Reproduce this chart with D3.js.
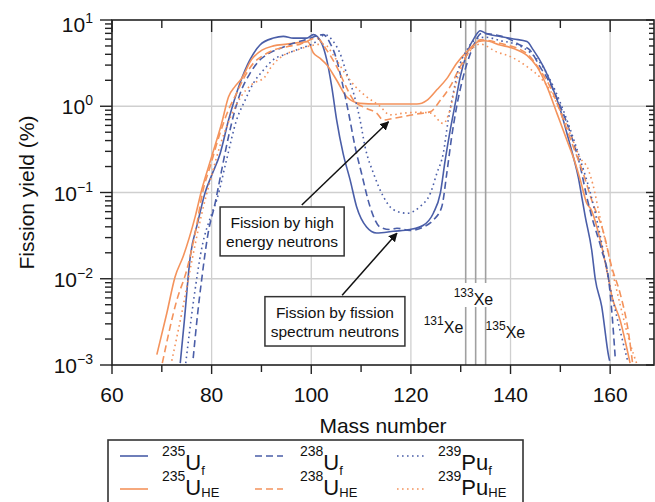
<!DOCTYPE html>
<html lang="en">
<head>
<meta charset="UTF-8">
<title>Fission yield vs mass number</title>
<script src="https://d3js.org/d3.v7.min.js"></script>
<style>
  body { margin: 0; background: #fff; }
  text { font-family: "Liberation Sans", Arial, sans-serif; fill: #111; }
  .grid { stroke: #cfcfcf; stroke-width: 1.3; }
  .xe { stroke: #a0a0a0; stroke-width: 1.6; }
  .frame { fill: none; stroke: #222; stroke-width: 1.6; }
  .tick { stroke: #222; stroke-width: 1.4; }
  .curve { fill: none; stroke-width: 1.6; }
  .note rect { fill: #fff; stroke: #333; stroke-width: 1.5; }
</style>
</head>
<body>
<svg width="655" height="502"></svg>
<script>
// ---- data (yield in %) ----
const u235fMass  = [73.7,74.5,75.7,77.2,78.7,80,81.7,83.4,85.7,87.7,89.7,92.4,94.4,96.4,99.1,100.4,102.1,103.1,104.1,105.1,106.4,107.8,109.1,111.1,113.1,116.5,119.8,122.5,124.5,125.9,126.9,127.9,128.9,129.9,131.2,132.9,133.9,135.2,137.9,140.6,143.3,144.6,146.6,148.6,150,151.3,152.6,153.6,154.3,155,156.3,157,158.3,159.7,159.9];
const u235fYield = [0.00105,0.00316,0.0178,0.0447,0.1,0.158,0.282,0.692,1.86,3.47,5.13,6.17,6.46,6.17,6.17,6.76,5.37,3.47,1.70,0.692,0.282,0.140,0.0684,0.0398,0.0339,0.0355,0.0372,0.0417,0.0575,0.0977,0.240,0.531,1.07,2.19,4.07,6.46,7.52,6.92,6.46,6.03,5.62,4.47,2.88,1.55,0.912,0.490,0.260,0.151,0.0891,0.0525,0.0214,0.01,0.00479,0.00126,0.00112];

const u235heMass  = [69,71,72.65,74.3,76.7,78,80,82,83.4,84.7,86,88,90.1,92.4,95.1,97.8,99.3,100.4,101.8,103.1,105.1,107.1,109.8,113.1,117.2,121.2,123.2,125.2,127.2,129.2,131.2,133.6,134.9,137.9,140.6,143.3,145.3,147.3,149.3,151.3,153,154,155.3,156.2,158,159.7,160.3,162,164];
const u235heYield = [0.00132,0.00398,0.0105,0.0182,0.0525,0.107,0.260,0.631,1.29,1.70,2.09,3.47,4.47,5.01,5.25,5.50,5.62,4.17,3.59,3.02,2.0,1.29,1.08,1.06,1.06,1.06,1.17,1.55,2.09,3.16,4.27,5.62,5.75,5.13,4.68,3.89,2.88,1.70,0.832,0.407,0.219,0.140,0.075,0.063,0.0282,0.00977,0.00646,0.00331,0.00105];

const u238fMass  = [76.3,77.2,78,79.3,80.7,81.3,83.4,84.7,86,87.7,89.4,91.4,93.7,96.4,99.1,102.4,103.8,105.1,106.1,107.5,108.8,110.1,111.8,113.8,115.8,117.2,119.8,122.5,124.5,126.2,127.2,128.2,129.2,130.5,132.2,134.2,136.6,139.3,141.9,143.9,145.9,147.9,150,152,154,155.3,156.3,158.3,159.7,160.3,161];
const u238fYield = [0.0012,0.00398,0.00977,0.0339,0.075,0.112,0.447,0.912,1.55,2.40,3.31,4.07,4.68,5.37,5.97,6.76,5.37,3.47,2.0,0.832,0.339,0.166,0.0684,0.0398,0.0372,0.0385,0.0363,0.0398,0.0479,0.0684,0.166,0.447,1.0,2.19,4.47,7.0,6.76,6.17,5.13,4.47,2.88,1.86,1.0,0.490,0.20,0.0891,0.0525,0.0214,0.00977,0.00437,0.00126];

const u238heMass  = [70.1,73,75,76.7,78.3,79.7,81.7,83.4,85,86.4,88.4,90.4,92.4,95.1,97.8,101.1,103.1,105.1,106.8,108.5,111.1,113.1,114.5,116.5,118.5,121.2,123.9,125.9,127.9,129.9,131.9,134,137.9,143.3,145.9,147.9,150.6,152.6,154.6,156.3,158.7,160.3,162,163.7,164.5];
const u238heYield = [0.00105,0.00562,0.0126,0.0339,0.107,0.20,0.49,0.912,1.41,2.09,3.16,3.89,4.47,4.90,5.25,6.17,4.47,2.88,1.78,1.17,0.944,0.832,0.692,0.724,0.759,0.813,0.865,1.17,1.70,2.88,4.47,5.89,5.37,4.07,2.63,1.70,0.692,0.339,0.166,0.0813,0.0339,0.0138,0.00676,0.00234,0.00105];

const pu239fMass  = [74.8,76.5,78,80,81,83,85,86.7,88.4,90.4,92.4,95.1,97.8,100.5,102.8,104.3,105.8,107.1,108.5,109.8,110.8,112.5,114.5,116.5,119.2,121.8,123.9,125.2,126.5,127.5,128.5,129.5,131.2,133.2,135,138,141,144,146,148,150,152,154,156,158,160,162,163.5];
const pu239fYield = [0.00105,0.0063,0.0224,0.0562,0.0813,0.24,0.692,1.17,1.86,2.63,3.47,4.07,4.68,5.37,6.76,5.75,4.07,2.40,1.41,0.692,0.339,0.166,0.0891,0.0631,0.0575,0.0684,0.0977,0.166,0.285,0.692,1.41,2.63,4.47,6.03,6.31,5.75,5.25,4.17,3.16,2.0,1.10,0.537,0.240,0.1,0.0316,0.00794,0.00251,0.00112];

const pu239heMass  = [72,74,76,78,80,82,84,86,88,90.7,92,94.4,97.1,99.1,102.5,104.8,106.8,108.8,111.1,113.8,115.8,118.5,121.5,124,126.5,127.8,129,130.5,132.5,134,137.2,140,143.3,146,148,150,152,154,155.5,156.5,158,160,162,164,165.3];
const pu239heYield = [0.00112,0.00398,0.0158,0.0562,0.158,0.398,0.794,1.32,1.78,2.19,2.88,3.89,4.47,4.90,5.25,3.63,2.40,1.70,1.29,1.0,0.794,0.832,0.851,0.832,0.631,0.891,1.78,3.16,4.79,5.25,4.27,3.76,2.88,2.14,1.51,0.891,0.479,0.251,0.191,0.126,0.0501,0.0158,0.00501,0.00178,0.00105];

const xTicks = [60, 80, 100, 120, 140, 160];
const yDecades = [1e-3, 1e-2, 1e-1, 1e0, 1e1];
const yExponents = ["\u22123", "\u22122", "\u22121", "0", "1"];
const xeMass = [131, 133, 135];
const xeLabels = ["131", "133", "135"];

const series = [
  {mass: u235fMass,  yield: u235fYield,  sup: "235", main: "U",  sub: "f",  color: "#4a5ea8", dash: null},
  {mass: u235heMass, yield: u235heYield, sup: "235", main: "U",  sub: "HE", color: "#f4935c", dash: null},
  {mass: u238fMass,  yield: u238fYield,  sup: "238", main: "U",  sub: "f",  color: "#4a5ea8", dash: "7,4"},
  {mass: u238heMass, yield: u238heYield, sup: "238", main: "U",  sub: "HE", color: "#f4935c", dash: "7,4"},
  {mass: pu239fMass, yield: pu239fYield, sup: "239", main: "Pu", sub: "f",  color: "#4a5ea8", dash: "1.6,3.4"},
  {mass: pu239heMass,yield: pu239heYield,sup: "239", main: "Pu", sub: "HE", color: "#f4935c", dash: "1.6,3.4"}
];

// ---- layout ----
const svg = d3.select("svg");
const pLeft = 112, pRight = 654, pTop = 20, pBottom = 365;

const x = d3.scaleLinear().domain([60, 168.8]).range([pLeft, pRight]);
const y = d3.scaleLog().domain([1e-3, 10]).range([pBottom, pTop]);

const defs = svg.append("defs");
defs.append("clipPath").attr("id", "plotclip")
  .append("rect").attr("x", pLeft).attr("y", pTop)
  .attr("width", pRight - pLeft).attr("height", pBottom - pTop);

defs.append("marker")
  .attr("id", "arrowhead")
  .attr("viewBox", "0 -5 10 10")
  .attr("refX", 9).attr("refY", 0)
  .attr("markerWidth", 9).attr("markerHeight", 9)
  .attr("markerUnits", "userSpaceOnUse")
  .attr("orient", "auto")
  .append("path").attr("d", "M0,-5L10,0L0,5Z").attr("fill", "#111");

// grid
const grid = svg.append("g");
grid.selectAll("line.gx").data(xTicks.filter(d => d > 60))
  .enter().append("line").attr("class", "grid")
  .attr("x1", d => x(d)).attr("x2", d => x(d))
  .attr("y1", pTop).attr("y2", pBottom);
grid.selectAll("line.gy").data(yDecades.slice(1, 4))
  .enter().append("line").attr("class", "grid")
  .attr("x1", pLeft).attr("x2", pRight)
  .attr("y1", d => y(d)).attr("y2", d => y(d));

// Xe reference lines, broken where the 133Xe label sits
const gapTop = 283, gapBot = 307;
xeMass.forEach(m => {
  grid.append("line").attr("class", "xe")
    .attr("x1", x(m)).attr("x2", x(m)).attr("y1", pTop).attr("y2", gapTop);
  grid.append("line").attr("class", "xe")
    .attr("x1", x(m)).attr("x2", x(m)).attr("y1", gapBot).attr("y2", pBottom);
});

// curves
const line = d3.line()
  .x(d => x(d[0]))
  .y(d => y(d[1]))
  .curve(d3.curveMonotoneX);

svg.append("g").attr("clip-path", "url(#plotclip)")
  .selectAll("path").data(series)
  .enter().append("path")
  .attr("class", "curve")
  .attr("stroke", d => d.color)
  .attr("stroke-dasharray", d => d.dash)
  .attr("d", d => line(d.mass.map((m, i) => [m, d.yield[i]])));

// frame
svg.append("rect").attr("class", "frame")
  .attr("x", pLeft).attr("y", pTop)
  .attr("width", pRight - pLeft).attr("height", pBottom - pTop);

// x axis ticks (outward at bottom, inward at top)
const xMinor = d3.range(60, 170, 10);
const ticks = svg.append("g");
xMinor.forEach(v => {
  const major = v % 20 === 0;
  ticks.append("line").attr("class", "tick")
    .attr("x1", x(v)).attr("x2", x(v))
    .attr("y1", pBottom).attr("y2", pBottom + (major ? 9 : 7));
  ticks.append("line").attr("class", "tick")
    .attr("x1", x(v)).attr("x2", x(v))
    .attr("y1", pTop).attr("y2", pTop + (major ? 12 : 8));
});

// y axis ticks: decades and minor log ticks
const yMinor = [];
yDecades.slice(0, 4).forEach(d => { for (let k = 2; k <= 9; k++) yMinor.push(d * k); });
yDecades.forEach(v => {
  ticks.append("line").attr("class", "tick")
    .attr("x1", pLeft - 12).attr("x2", pLeft).attr("y1", y(v)).attr("y2", y(v));
  ticks.append("line").attr("class", "tick")
    .attr("x1", pRight - 8).attr("x2", pRight).attr("y1", y(v)).attr("y2", y(v));
});
yMinor.forEach(v => {
  ticks.append("line").attr("class", "tick").attr("stroke-width", 1.1)
    .attr("x1", pLeft - 7).attr("x2", pLeft).attr("y1", y(v)).attr("y2", y(v));
  ticks.append("line").attr("class", "tick").attr("stroke-width", 1.1)
    .attr("x1", pRight - 5).attr("x2", pRight).attr("y1", y(v)).attr("y2", y(v));
});

// tick labels
svg.append("g").selectAll("text").data(xTicks)
  .enter().append("text")
  .attr("x", d => x(d)).attr("y", pBottom + 37)
  .attr("text-anchor", "middle").attr("font-size", 21)
  .text(d => d);

const yl = svg.append("g").selectAll("text").data(yDecades)
  .enter().append("text")
  .attr("x", 93).attr("y", (d, i) => y(d) + (i === 4 ? 12 : 8))
  .attr("text-anchor", "end").attr("font-size", 21);
yl.append("tspan").text("10");
yl.append("tspan").attr("font-size", 14).attr("dy", -9).text((d, i) => yExponents[i]);

// axis titles
svg.append("text").attr("x", (pLeft + pRight) / 2).attr("y", 433)
  .attr("text-anchor", "middle").attr("font-size", 21).text("Mass number");
svg.append("text").attr("transform", `translate(34,${(pTop + pBottom) / 2}) rotate(-90)`)
  .attr("text-anchor", "middle").attr("font-size", 21).text("Fission yield (%)");

// Xe labels
const xeOffset = [-42, -22, 0];
const xeBase = [333, 305, 338];
xeMass.forEach((m, i) => {
  const t = svg.append("text").attr("x", x(m) + xeOffset[i]).attr("y", xeBase[i]);
  t.append("tspan").attr("font-size", 12).attr("dy", -8).text(xeLabels[i]);
  t.append("tspan").attr("font-size", 16).attr("dy", 8).text("Xe");
});

// annotations: boxes and arrows (positions in data units)
const notes = [
  {lines: ["Fission by high", "energy neutrons"], m0: 81.7, m1: 106.6, y0: 0.0679, y1: 0.0184,
   from: [98.1, 0.0716], to: [115.5, 0.66]},
  {lines: ["Fission by fission", "spectrum neutrons"], m0: 90.7, m1: 118.8, y0: 0.0062, y1: 0.00166,
   from: [106.2, 0.00645], to: [117.2, 0.0337]}
];
notes.forEach(n => {
  svg.append("line")
    .attr("x1", x(n.from[0])).attr("y1", y(n.from[1]))
    .attr("x2", x(n.to[0])).attr("y2", y(n.to[1]))
    .attr("stroke", "#111").attr("stroke-width", 1.5)
    .attr("marker-end", "url(#arrowhead)");
  const g = svg.append("g").attr("class", "note");
  g.append("rect").attr("x", x(n.m0)).attr("y", y(n.y0))
    .attr("width", x(n.m1) - x(n.m0)).attr("height", y(n.y1) - y(n.y0));
  const cx = (x(n.m0) + x(n.m1)) / 2;
  g.selectAll("text").data(n.lines).enter().append("text")
    .attr("x", cx).attr("y", (d, i) => y(n.y0) + 21 + i * 19)
    .attr("text-anchor", "middle").attr("font-size", 15.5)
    .text(d => d);
});

// legend
const legCols = [120, 255, 397];
const legText = [162, 300, 438];
const legRows = [456, 489];
const legBase = [470, 495];
const legSubDy = [5, 2];
svg.append("rect").attr("x", 108).attr("y", 440).attr("width", 415).attr("height", 80)
  .attr("fill", "#fff").attr("stroke", "#333").attr("stroke-width", 1.6);
series.forEach((s, i) => {
  const col = Math.floor(i / 2), row = i % 2;
  svg.append("line")
    .attr("x1", legCols[col]).attr("x2", legCols[col] + 28)
    .attr("y1", legRows[row]).attr("y2", legRows[row])
    .attr("stroke", s.color).attr("stroke-width", 1.6)
    .attr("stroke-dasharray", s.dash);
  const t = svg.append("text").attr("x", legText[col]).attr("y", legBase[row]);
  t.append("tspan").attr("font-size", 14).attr("dy", -14).text(s.sup);
  t.append("tspan").attr("font-size", 22).attr("dy", 14).text(s.main);
  t.append("tspan").attr("font-size", 13).attr("dy", legSubDy[row]).text(s.sub);
});
</script>
</body>
</html>
